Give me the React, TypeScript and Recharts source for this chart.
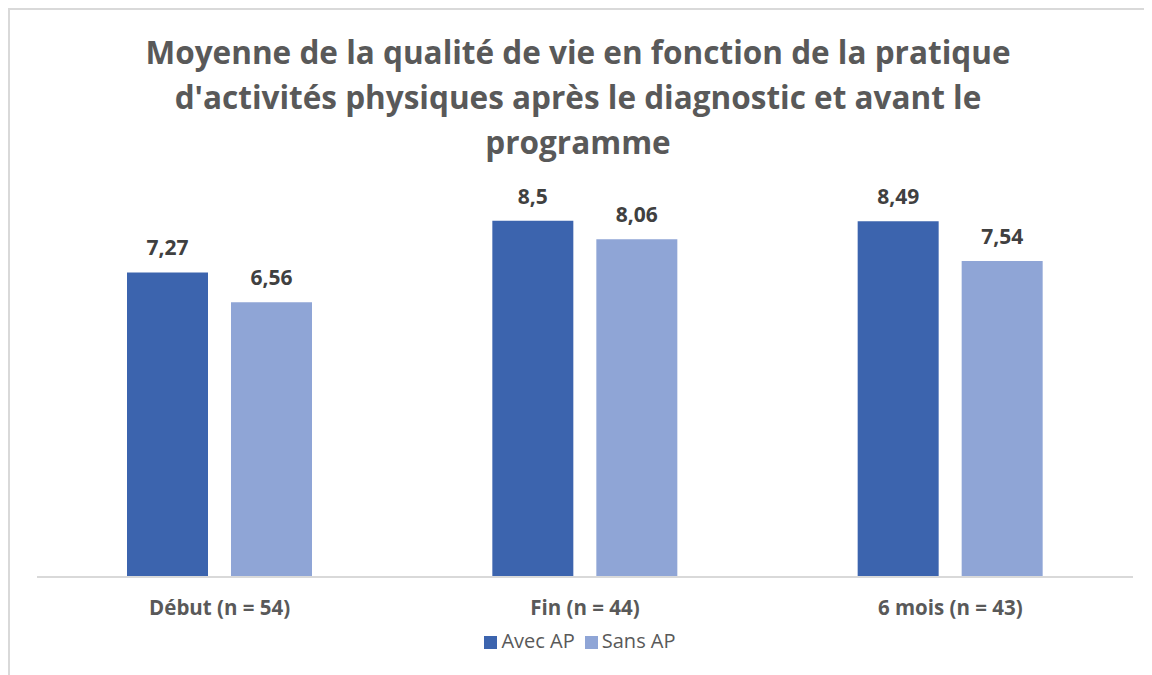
import { BarChart, Bar, XAxis, YAxis, Legend, LabelList } from "recharts";

const categories = ["Début (n = 54)", "Fin (n = 44)", "6 mois (n = 43)"];
const avecAP = [7.27, 8.5, 8.49];
const sansAP = [6.56, 8.06, 7.54];
const titleLines = [
  "Moyenne de la qualité de vie en fonction de la pratique",
  "d'activités physiques après le diagnostic et avant le",
  "programme",
];

const data = categories.map((name, i) => ({ name, avec: avecAP[i], sans: sansAP[i] }));

const FONT = "'Open Sans', 'Liberation Sans', sans-serif";
const fmt = (v: any) => String(v).replace(".", ",");

const CatTick = (props: any) => {
  const { x, y, payload } = props;
  return (
    <text
      x={x}
      y={y + 30}
      textAnchor="middle"
      fill="#595959"
      style={{ fontSize: 20.5, fontWeight: 700, fontFamily: FONT }}
    >
      {payload.value}
    </text>
  );
};

const App = () => {
  return (
    <div
      style={{
        position: "relative",
        width: 1150,
        height: 690,
        border: "2px solid #d9d9d9",
        boxSizing: "border-box",
        fontFamily: FONT,
        background: "#fff",
      }}
    >
      <div
        style={{
          position: "absolute",
          left: 20,
          top: 19,
          width: 1096,
          textAlign: "center",
          fontSize: 31.5,
          lineHeight: "45px",
          fontWeight: 700,
          color: "#595959",
        }}
      >
        {titleLines.map((l) => (
          <div key={l}>{l}</div>
        ))}
      </div>
      <BarChart
        width={1146}
        height={686}
        data={data}
        margin={{ top: 148, right: 23, left: 27, bottom: 52 }}
        barCategoryGap={90}
        barGap={23}
        style={{ fontFamily: FONT }}
      >
        <XAxis
          dataKey="name"
          axisLine={{ stroke: "#d9d9d9", strokeWidth: 2 }}
          tickLine={false}
          height={40}
          tick={<CatTick />}
        />
        <YAxis hide domain={[0, 10]} />
        <Legend
          verticalAlign="bottom"
          align="center"
          iconType="square"
          iconSize={13}
          wrapperStyle={{ fontSize: 20, color: "#595959", bottom: 42 }}
          formatter={(v: string) => <span style={{ color: "#595959" }}>{v}</span>}
        />
        <Bar dataKey="avec" name="Avec AP" fill="#3C64AE" barSize={81} isAnimationActive={false}>
          <LabelList
            dataKey="avec"
            position="top"
            offset={17}
            formatter={fmt}
            style={{ fill: "#404040", fontSize: 21, fontWeight: 700 }}
          />
        </Bar>
        <Bar dataKey="sans" name="Sans AP" fill="#8FA5D6" barSize={81} isAnimationActive={false}>
          <LabelList
            dataKey="sans"
            position="top"
            offset={17}
            formatter={fmt}
            style={{ fill: "#404040", fontSize: 21, fontWeight: 700 }}
          />
        </Bar>
      </BarChart>
    </div>
  );
};

export default App;
